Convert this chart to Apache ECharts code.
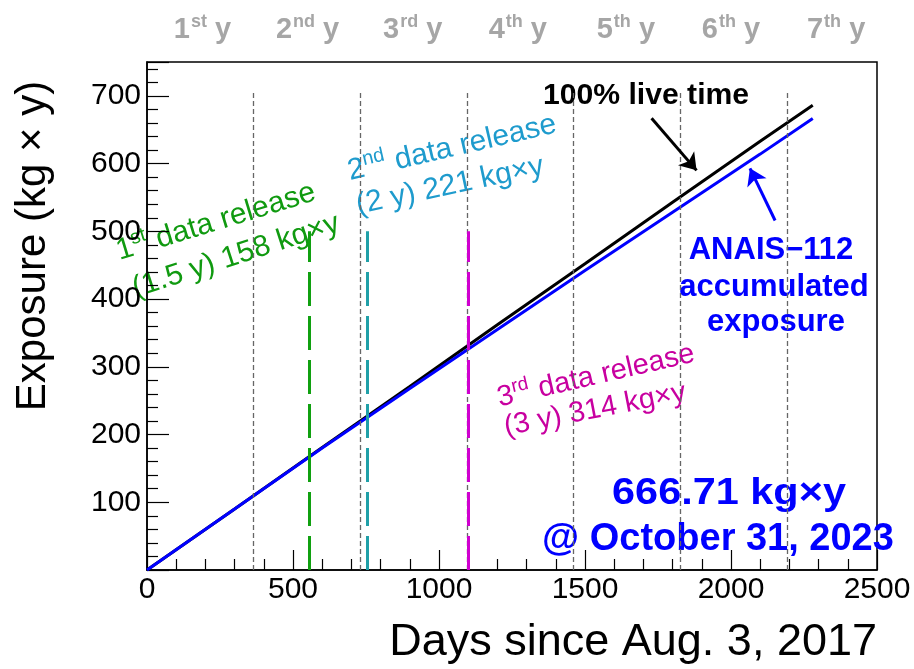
<!DOCTYPE html>
<html>
<head>
<meta charset="utf-8">
<script src="https://cdn.jsdelivr.net/npm/echarts@6/dist/echarts.min.js"></script>
<style>html,body{margin:0;padding:0;background:#fff}#main{width:914px;height:669px}</style>
</head>
<body>
<div id="main"></div>
<script>
// exposure curves (days since Aug. 3, 2017 -> kg x y)
var days = [0, 300, 600, 900, 1200, 1500, 1800, 2100, 2280];
var liveTime = [0, 90, 181, 271, 362, 452, 543, 633, 686];
var exposure = [0, 90, 180, 268, 355, 442, 528, 614, 666.71];

// year boundaries and year labels on top
var yearLines = [365, 730, 1096, 1461, 1826, 2191];
var yearTop = 705;
var yearMids = [190, 550, 910, 1270, 1640, 2000, 2360];
var yearOrd = ['st', 'nd', 'rd', 'th', 'th', 'th', 'th'];

// data releases: day of the vertical line, height 500
var releaseDays = [555, 753, 1100];
var releaseTop = 500;
var releaseColors = ['#10a010', '#20a0a8', '#d000d0'];

// arrows (start / end in data coords)
var liveArrow = [[1728, 667], [1882, 590]];
var anaisArrow = [[2151, 516], [2065, 593]];

var FONT = '"Liberation Sans", Arial, sans-serif';

function pairs(xs, ys) {
	return xs.map(function (x, i) { return [x, ys[i]]; });
}

function vline(d, top) {
	return [{coord: [d, 0]}, {coord: [d, top]}];
}

function txt(x, y, deg, text, color, size, bold, scaleX) {
	var sup = Math.round(size * 0.66);
	return {
		type: 'text', x: x, y: y, rotation: deg * Math.PI / 180,
		scaleX: scaleX || 1, silent: true,
		style: {
			text: text, fill: color, align: 'center', verticalAlign: 'middle',
			font: (bold ? 'bold ' : '') + size + 'px ' + FONT,
			rich: {
				a: {fontSize: size, fontFamily: FONT, fill: color, fontWeight: bold ? 'bold' : 'normal'},
				s: {fontSize: sup, fontFamily: FONT, fill: color,
					padding: [0, 1, Math.round(size * 0.55), 0], fontWeight: bold ? 'bold' : 'normal'}
			}
		}
	};
}

var chart = echarts.init(document.getElementById('main'));

var option = {
	animation: false,
	backgroundColor: '#fff',
	grid: {left: 147, right: 37, top: 62, bottom: 99, show: true, borderColor: '#000', borderWidth: 1.5},
	xAxis: [{
		type: 'value', min: 0, max: 2500, interval: 500,
		axisLine: {show: true, onZero: false, lineStyle: {color: '#000', width: 1.5}},
		axisTick: {inside: true, length: 20, lineStyle: {color: '#000', width: 1.2}},
		minorTick: {show: true, splitNumber: 5, length: 11, lineStyle: {color: '#000', width: 1.2}},
		splitLine: {show: false},
		axisLabel: {color: '#000', fontSize: 30, fontFamily: FONT, margin: 5,
			formatter: function (v) { return String(v); }}
	}, {
		type: 'value', min: 0, max: 2500, position: 'top',
		axisLine: {show: false}, axisTick: {show: false}, splitLine: {show: false},
		axisLabel: {
			customValues: yearMids, margin: 15,
			formatter: function (v) {
				var i = yearMids.indexOf(v);
				return '{n|' + (i + 1) + '}{s|' + yearOrd[i] + '}{n| y}';
			},
			rich: {
				n: {fontSize: 29, fontWeight: 'bold', color: '#a6a6a6', fontFamily: FONT},
				s: {fontSize: 18, fontWeight: 'bold', color: '#a6a6a6', fontFamily: FONT, padding: [0, 0, 16, 1]}
			}
		}
	}],
	yAxis: {
		type: 'value', min: 0, max: 750, interval: 100,
		axisLine: {show: true, onZero: false, lineStyle: {color: '#000', width: 1.5}},
		axisTick: {inside: true, length: 22, lineStyle: {color: '#000', width: 1.2}},
		minorTick: {show: true, splitNumber: 5, length: 11, lineStyle: {color: '#000', width: 1.2}},
		splitLine: {show: false},
		axisLabel: {
			color: '#000', fontSize: 30, fontFamily: FONT, margin: 6,
			formatter: function (v) { return (v === 0 || v % 100) ? '' : String(v); }
		}
	},
	series: [{
		name: 'years', type: 'line', data: [], silent: true,
		markLine: {
			silent: true, symbol: 'none', animation: false, label: {show: false},
			lineStyle: {color: '#666', width: 1.3, type: [5, 3]},
			data: yearLines.map(function (d) { return vline(d, yearTop); })
		}
	}].concat(releaseDays.map(function (d, i) {
		return {
			name: 'release' + (i + 1), type: 'line', data: [], silent: true,
			markLine: {
				silent: true, symbol: 'none', animation: false, label: {show: false},
				lineStyle: {color: releaseColors[i], width: 3, type: [34, 10]},
				data: [vline(d, releaseTop)]
			}
		};
	})).concat([{
		name: '100% live time', type: 'line', data: pairs(days, liveTime),
		showSymbol: false, lineStyle: {color: '#000', width: 3}, z: 3
	}, {
		name: 'ANAIS-112', type: 'line', data: pairs(days, exposure),
		showSymbol: false, lineStyle: {color: '#0000ff', width: 3}, z: 4
	}, {
		name: 'arrows', type: 'line', data: [], silent: true,
		markLine: {
			silent: true, symbol: ['none', 'arrow'], symbolSize: 16, animation: false,
			label: {show: false},
			data: [
				[{coord: liveArrow[0], lineStyle: {color: '#000', width: 3, type: 'solid'}}, {coord: liveArrow[1]}],
				[{coord: anaisArrow[0], lineStyle: {color: '#0000ff', width: 3, type: 'solid'}}, {coord: anaisArrow[1]}]
			]
		}
	}]),
	graphic: [
		// axis titles
		txt(33, 246, 90, 'Exposure (kg \u00d7 y)', '#000', 42, false),
		{type: 'text', x: 877, y: 643, silent: true,
			style: {text: 'Days since Aug. 3, 2017', fill: '#000', align: 'right', verticalAlign: 'middle',
				font: '45px ' + FONT}},
		// curve labels
		txt(646, 96, 0, '100% live time', '#000', 29, true, 1.04),
		txt(771, 250, 0, 'ANAIS\u2212112', '#0000ff', 31, true),
		txt(774, 287, 0, 'accumulated', '#0000ff', 31, true),
		txt(776, 322, 0, 'exposure', '#0000ff', 31, true),
		txt(729, 494, 0, '666.71 kg\u00d7y', '#0000ff', 37, true, 1.12),
		txt(718, 540, 0, '@ October 31, 2023', '#0000ff', 38, true),
		// data releases
		txt(216, 222, 17, '{a|1}{s|st}{a| data release}', '#109a10', 30, false),
		txt(236, 256, 18, '(1.5 y) 158 kg\u00d7y', '#109a10', 30, false),
		txt(452, 148, 13, '{a|2}{s|nd}{a| data release}', '#1e9bcd', 30, false),
		txt(450, 186, 12, '(2 y) 221 kg\u00d7y', '#1e9bcd', 30, false),
		txt(596, 376, 13, '{a|3}{s|rd}{a| data release}', '#c800a0', 29, false),
		txt(595, 410, 11, '(3 y) 314 kg\u00d7y', '#c800a0', 29, false)
	]
};

chart.setOption(option);
</script>
</body>
</html>
